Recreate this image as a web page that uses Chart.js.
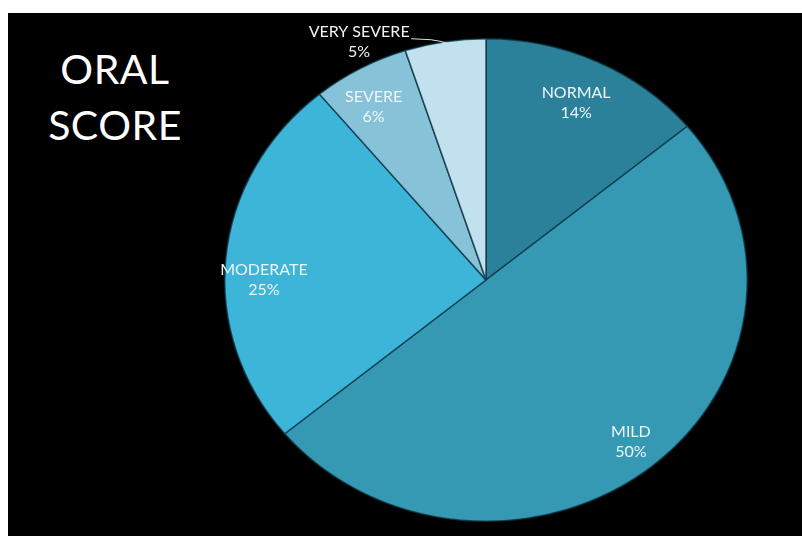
<!DOCTYPE html>
<html><head><meta charset="utf-8">
<script src="https://cdn.jsdelivr.net/npm/chart.js@4.4.1/dist/chart.umd.min.js"></script>
<style>
html,body{margin:0;padding:0;background:#fff;width:802px;height:536px;overflow:hidden;}
#bg{position:absolute;left:8px;top:13px;width:794px;height:523px;background:#000;}
#title{position:absolute;left:25px;top:41px;width:180px;text-align:center;color:#fff;font-family:Lato,"Open Sans",sans-serif;font-size:41px;line-height:56px;letter-spacing:0.5px;}
#wrap{position:absolute;left:0;top:0;width:802px;height:536px;}
</style></head><body>
<div id="bg"></div>
<div id="title">ORAL<br>SCORE</div>
<div id="wrap"><canvas id="c" width="802" height="536"></canvas></div>
<script>
const categories = ["NORMAL","MILD","MODERATE","SEVERE","VERY SEVERE"];
const values = [14, 50, 25, 6, 5];
const colors = ["#2b8199","#3599b4","#3db5d8","#86c3d8","#c0e1ed"];
const XSCALE = 1.083;
// label placement tweaks (radius fraction, angle nudge in degrees)
const labelFrac = [0.81, 0.87, 0.85, 0.835];
const labelNudge = [0, 0, -5.4, -2.2];

const stretch = {
  id:'stretch',
  beforeDatasetsDraw(chart){
    const a = chart.getDatasetMeta(0).data[0];
    const ctx = chart.ctx;
    ctx.save();
    ctx.translate(a.x,0); ctx.scale(XSCALE,1); ctx.translate(-a.x,0);
  },
  afterDatasetsDraw(chart){
    chart.ctx.restore();
    const ctx = chart.ctx;
    const meta = chart.getDatasetMeta(0);
    const total = values.reduce((s,v)=>s+v,0);
    ctx.save();
    ctx.font = '16px Lato, "Open Sans", sans-serif';
    ctx.textAlign='center'; ctx.textBaseline='middle';
    meta.data.forEach((arc,i)=>{
      const mid = (arc.startAngle+arc.endAngle)/2;
      const pct = Math.round(values[i]/total*100)+'%';
      if(i===4){
        const ex = arc.x + Math.cos(mid)*arc.outerRadius*XSCALE;
        const ey = arc.y + Math.sin(mid)*arc.outerRadius;
        const tx = ex - 86, ty = ey;
        ctx.strokeStyle='#ddd'; ctx.lineWidth=1;
        ctx.beginPath(); ctx.moveTo(tx+52,ty-3); ctx.lineTo(ex-14,ey-2); ctx.quadraticCurveTo(ex-4,ey-1,ex+6,ey+3); ctx.stroke();
        ctx.fillStyle='#f2f2f2';
        ctx.fillText(categories[i], tx, ty-10);
        ctx.fillText(pct, tx, ty+10);
        return;
      }
      const ang = mid + labelNudge[i]*Math.PI/180;
      const fr = labelFrac[i];
      const x = arc.x + Math.cos(ang)*arc.outerRadius*fr*XSCALE;
      const y = arc.y + Math.sin(ang)*arc.outerRadius*fr;
      ctx.fillStyle = '#eef7fa';
      ctx.fillText(categories[i], x, y-10);
      ctx.fillText(pct, x, y+10);
    });
    ctx.restore();
  }
};

new Chart(document.getElementById('c'),{
  type:'pie',
  data:{labels:categories,datasets:[{data:values,backgroundColor:colors,borderColor:'rgba(10,50,65,0.75)',borderWidth:1.5}]},
  options:{
    responsive:false,animation:false,
    layout:{padding:{left:244,right:74,top:38,bottom:14}},
    plugins:{legend:{display:false},tooltip:{enabled:false},title:{display:false}}
  },
  plugins:[stretch]
});
</script>
</body></html>
